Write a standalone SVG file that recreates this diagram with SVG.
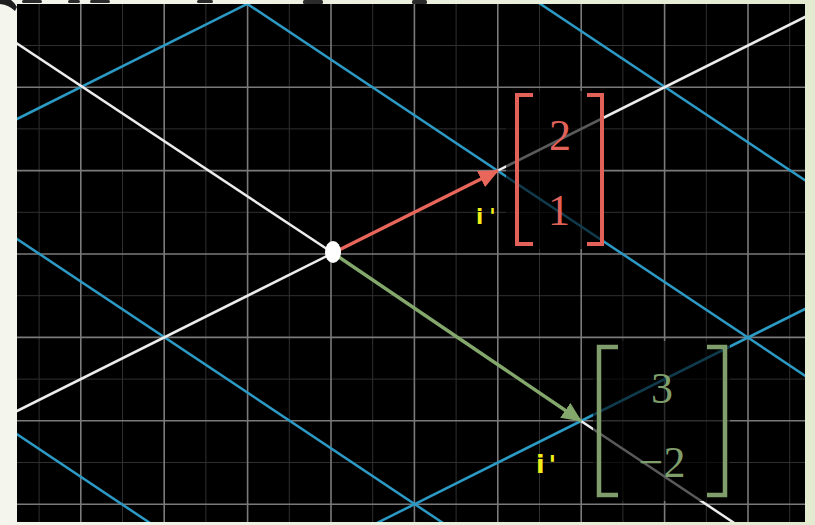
<svg xmlns="http://www.w3.org/2000/svg" width="815" height="525" viewBox="0 0 815 525">
  <defs>
    <linearGradient id="bg" x1="0" y1="0" x2="1" y2="0">
      <stop offset="0" stop-color="#f4f5ec"/>
      <stop offset="1" stop-color="#e3ead0"/>
    </linearGradient>
    <clipPath id="plane"><rect x="17" y="4" width="788" height="518"/></clipPath>
    <marker id="headR" viewBox="0 0 20 18" refX="19" refY="9" markerWidth="20" markerHeight="18" markerUnits="userSpaceOnUse" orient="auto">
      <path d="M0,0 L20,9 L0,18 Z" fill="#e8665a"/>
    </marker>
    <marker id="headG" viewBox="0 0 20 18" refX="19" refY="9" markerWidth="20" markerHeight="18" markerUnits="userSpaceOnUse" orient="auto">
      <path d="M0,0 L20,9 L0,18 Z" fill="#84a86c"/>
    </marker>
  </defs>
  <style>
    .major{stroke:#7a7a7a;stroke-width:1.6}
    .minor{stroke:#303030;stroke-width:1}
    .blue{stroke:#2b9ac4;stroke-width:2.5}
    .white{stroke:#ececec;stroke-width:2.5}
    .dim{fill:#000;fill-opacity:0.62}
    .num{font-family:"Liberation Serif","Times New Roman",serif;font-size:44px;text-anchor:middle}
    .lab{font-family:"DejaVu Sans","Liberation Sans",sans-serif;font-weight:bold;fill:#f2ee1a}
    .brR{fill:none;stroke:#e2625a;stroke-width:4}
    .brG{fill:none;stroke:#7f9e6c;stroke-width:4.5}
    .vec{stroke-width:3.4;stroke-linecap:butt}
  </style>
  <rect x="0" y="0" width="815" height="525" fill="url(#bg)"/>
  <!-- cut-off shapes above the plane -->
  <path d="M0,0 L11,0 Q15,3 17,7 L15,11 Q9,5 0,4 Z" fill="#1e1e1e"/>
  <g fill="#2a2a2a">
    <rect x="22" y="0" width="20" height="3" rx="1.5"/>
    <rect x="68" y="0" width="12" height="3" rx="1.5"/>
    <rect x="90" y="0" width="20" height="3" rx="1.5"/>
    <rect x="197" y="0" width="16" height="3" rx="1.5"/>
    <rect x="303" y="0" width="20" height="4" rx="1.5"/>
    <rect x="412" y="0" width="15" height="4" rx="1.5"/>
  </g>
  <rect x="17" y="4" width="788" height="518" fill="#000"/>
  <g id="plane-lines" clip-path="url(#plane)">
    <g id="grid-minor" class="minor">
      <line x1="39.1" y1="0" x2="39.1" y2="525"/>
      <line x1="122.5" y1="0" x2="122.5" y2="525"/>
      <line x1="205.9" y1="0" x2="205.9" y2="525"/>
      <line x1="289.3" y1="0" x2="289.3" y2="525"/>
      <line x1="372.7" y1="0" x2="372.7" y2="525"/>
      <line x1="456.1" y1="0" x2="456.1" y2="525"/>
      <line x1="539.5" y1="0" x2="539.5" y2="525"/>
      <line x1="622.9" y1="0" x2="622.9" y2="525"/>
      <line x1="706.3" y1="0" x2="706.3" y2="525"/>
      <line x1="789.7" y1="0" x2="789.7" y2="525"/>
      <line x1="0" y1="45.5" x2="815" y2="45.5"/>
      <line x1="0" y1="128.9" x2="815" y2="128.9"/>
      <line x1="0" y1="212.3" x2="815" y2="212.3"/>
      <line x1="0" y1="295.7" x2="815" y2="295.7"/>
      <line x1="0" y1="379.1" x2="815" y2="379.1"/>
      <line x1="0" y1="462.5" x2="815" y2="462.5"/>
    </g>
    <g id="grid-major" class="major">
      <line x1="80.8" y1="0" x2="80.8" y2="525"/>
      <line x1="164.2" y1="0" x2="164.2" y2="525"/>
      <line x1="247.6" y1="0" x2="247.6" y2="525"/>
      <line x1="331" y1="0" x2="331" y2="525"/>
      <line x1="414.4" y1="0" x2="414.4" y2="525"/>
      <line x1="497.8" y1="0" x2="497.8" y2="525"/>
      <line x1="581.2" y1="0" x2="581.2" y2="525"/>
      <line x1="664.6" y1="0" x2="664.6" y2="525"/>
      <line x1="748" y1="0" x2="748" y2="525"/>
      <line x1="0" y1="87.2" x2="815" y2="87.2"/>
      <line x1="0" y1="170.6" x2="815" y2="170.6"/>
      <line x1="0" y1="254" x2="815" y2="254"/>
      <line x1="0" y1="337.4" x2="815" y2="337.4"/>
      <line x1="0" y1="420.8" x2="815" y2="420.8"/>
      <line x1="0" y1="504.2" x2="815" y2="504.2"/>
    </g>
    <g id="transformed-grid" class="blue">
      <line x1="-119" y1="187" x2="481" y2="-113"/>
      <line x1="181" y1="621" x2="981" y2="221"/>
      <line x1="-303" y1="221" x2="297" y2="621"/>
      <line x1="-436" y1="-63" x2="764" y2="737"/>
      <line x1="-102" y1="-229" x2="1098" y2="571"/>
      <line x1="65" y1="-313" x2="1265" y2="487"/>
    </g>
    <g id="transformed-axes" class="white">
      <line x1="-169" y1="504" x2="333" y2="253"/>
      <line x1="498" y1="170.5" x2="931" y2="-46"/>
      <line x1="-269" y1="-146" x2="333" y2="253"/>
      <line x1="581" y1="421" x2="931" y2="654"/>
    </g>
  </g>
  <g id="connectors">
    <line class="vec" x1="333" y1="253" x2="498" y2="170.6" stroke="#e8665a" marker-end="url(#headR)"/>
    <line class="vec" x1="333" y1="253" x2="581" y2="421" stroke="#84a86c" marker-end="url(#headG)"/>
  </g>
  <g id="origin">
    <ellipse cx="333" cy="252" rx="8" ry="11" fill="#ffffff"/>
  </g>
  <g id="matrix-i">
    <rect class="dim" x="506" y="91" width="98" height="158"/>
    <path class="brR" d="M533,95 L517,95 L517,244 L533,244"/>
    <path class="brR" d="M587,95 L602,95 L602,244 L587,244"/>
    <text class="num" x="560" y="150" fill="#e2625a">2</text>
    <text class="num" x="559" y="225" fill="#e2625a">1</text>
  </g>
  <g id="matrix-j">
    <rect class="dim" x="593" y="341" width="137" height="160"/>
    <path class="brG" d="M618,347 L599,347 L599,495 L618,495"/>
    <path class="brG" d="M707,347 L725,347 L725,495 L707,495"/>
    <text class="num" x="662" y="403" fill="#7f9e6c">3</text>
    <text class="num" x="662" y="477" fill="#7f9e6c">−2</text>
  </g>
  <g id="label-i">
    <text class="lab" x="476" y="224" font-size="21" letter-spacing="6">i'</text>
  </g>
  <g id="label-j">
    <text class="lab" x="536" y="473" font-size="25" letter-spacing="4">i'</text>
  </g>
</svg>
